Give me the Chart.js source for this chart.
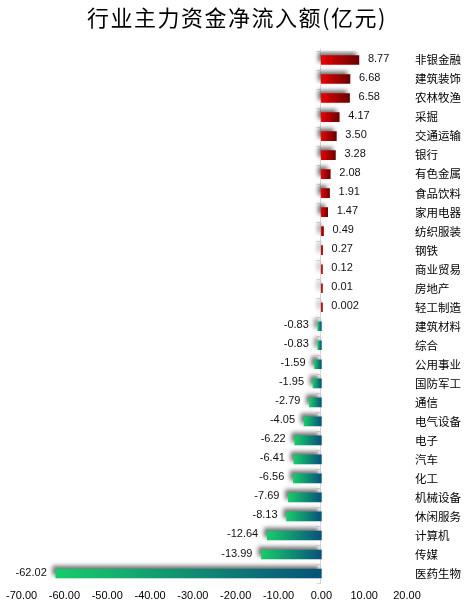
<!DOCTYPE html>
<html>
<head>
<meta charset="utf-8">
<script src="https://cdn.jsdelivr.net/npm/chart.js@4/dist/chart.umd.min.js"></script>
<style>
    html, body { margin: 0; padding: 0; background: #fff; }
    #wrap { width: 467px; height: 611px; position: relative; }
</style>
</head>
<body>
<div id="wrap"><canvas id="myChart"></canvas></div>
<script>
const titulo = '行业主力资金净流入额(亿元)';

const industrias = ['非银金融', '建筑装饰', '农林牧渔', '采掘', '交通运输', '银行', '有色金属',
    '食品饮料', '家用电器', '纺织服装', '钢铁', '商业贸易', '房地产', '轻工制造',
    '建筑材料', '综合', '公用事业', '国防军工', '通信', '电气设备', '电子', '汽车',
    '化工', '机械设备', '休闲服务', '计算机', '传媒', '医药生物'];

const flujos = [8.77, 6.68, 6.58, 4.17, 3.50, 3.28, 2.08, 1.91, 1.47, 0.49, 0.27, 0.12, 0.01, 0.002,
    -0.83, -0.83, -1.59, -1.95, -2.79, -4.05, -6.22, -6.41, -6.56, -7.69, -8.13, -12.64, -13.99, -62.02];

const xMin = -70;
const xMax = 20;
const xPaso = 10;

function formato(v) {
    return Math.abs(v) >= 0.01 ? v.toFixed(2) : String(v);
}

function colorBarra(context) {
    const chart = context.chart;
    const v = context.raw;
    const x = chart.scales.x;
    if (!chart.chartArea || !x || v === undefined) {
        return v >= 0 ? '#c00000' : '#10a070';
    }
    const x0 = x.getPixelForValue(0);
    const x1 = x.getPixelForValue(v);
    const ctx = chart.ctx;
    if (v >= 0) {
        const g = ctx.createLinearGradient(x0, 0, Math.max(x1, x0 + 1), 0);
        g.addColorStop(0, '#e80000');
        g.addColorStop(1, '#6a0000');
        return g;
    }
    const g = ctx.createLinearGradient(Math.min(x1, x0 - 1), 0, x0, 0);
    g.addColorStop(0, '#17cc6a');
    g.addColorStop(1, '#07527a');
    return g;
}

// sombra gris arriba a la izquierda de cada barra
const sombra = {
    id: 'sombra',
    beforeDatasetsDraw(chart) {
        const ctx = chart.ctx;
        ctx.save();
        ctx.shadowColor = 'rgba(0,0,0,0.55)';
        ctx.shadowBlur = 4;
        ctx.shadowOffsetX = -3;
        ctx.shadowOffsetY = -3;
    },
    afterDatasetsDraw(chart) {
        chart.ctx.restore();
    }
};

const extras = {
    id: 'extras',
    beforeDatasetsDraw(chart) {
        const ctx = chart.ctx;
        const area = chart.chartArea;
        const x0 = Math.round(chart.scales.x.getPixelForValue(0)) - 0.5;
        const paso = (area.bottom - area.top) / industrias.length;
        ctx.save();
        ctx.strokeStyle = '#d9d9d9';
        ctx.lineWidth = 1;
        ctx.beginPath();
        ctx.moveTo(x0, area.top - 2);
        ctx.lineTo(x0, area.bottom + 1);
        for (let i = 0; i <= industrias.length; i++) {
            const y = Math.round(area.top + i * paso) + 0.5;
            ctx.moveTo(x0 - 4, y);
            ctx.lineTo(x0, y);
        }
        ctx.stroke();
        ctx.restore();
    },
    afterDraw(chart) {
        const ctx = chart.ctx;
        const meta = chart.getDatasetMeta(0);
        ctx.save();
        ctx.font = '11px "Liberation Sans", Arial, sans-serif';
        ctx.fillStyle = '#111';
        ctx.textBaseline = 'middle';
        meta.data.forEach(function (bar, i) {
            const v = flujos[i];
            if (v >= 0) {
                ctx.textAlign = 'left';
                ctx.fillText(formato(v), Math.max(bar.x, bar.base) + 9, bar.y - 1);
            } else {
                ctx.textAlign = 'right';
                ctx.fillText(formato(v), Math.min(bar.x, bar.base) - 9, bar.y - 1);
            }
        });
        ctx.font = '22px "Noto Sans CJK SC", sans-serif';
        ctx.fillStyle = '#000';
        ctx.textAlign = 'center';
        if ('letterSpacing' in ctx) {
            ctx.letterSpacing = '1.5px';
        }
        ctx.fillText(titulo, 237, 18);
        ctx.restore();
    }
};

function dataBar() {
    return {
        type: 'bar',
        data: {
            labels: industrias,
            datasets: [{
                data: flujos,
                backgroundColor: colorBarra,
                barThickness: 9,
                minBarLength: 1,
                borderWidth: 0
            }]
        },
        options: {
            indexAxis: 'y',
            responsive: true,
            maintainAspectRatio: false,
            animation: false,
            layout: {
                padding: { top: 50.5, left: 21.5, right: 0, bottom: 0 }
            },
            plugins: {
                legend: { display: false },
                tooltip: { enabled: false },
                title: { display: false }
            },
            scales: {
                x: {
                    min: xMin,
                    max: xMax,
                    ticks: {
                        stepSize: xPaso,
                        padding: 6,
                        color: '#000',
                        font: { family: '"Liberation Sans", Arial, sans-serif', size: 11 },
                        maxRotation: 0,
                        callback: function (v) { return Number(v).toFixed(2); }
                    },
                    grid: { display: false, drawTicks: false },
                    border: { display: false },
                    afterFit: function (scale) { scale.height = 28; }
                },
                y: {
                    position: 'right',
                    ticks: {
                        padding: 8,
                        color: '#000',
                        font: { family: '"Noto Sans CJK SC", sans-serif', size: 11.5 }
                    },
                    grid: { display: false, drawTicks: false },
                    border: { display: false },
                    afterFit: function (scale) { scale.width = 60; }
                }
            }
        },
        plugins: [extras, sombra]
    };
}

function start() {
    const ctx = document.getElementById('myChart').getContext('2d');
    const myChart = new Chart(ctx, dataBar());
}

start();
</script>
</body>
</html>
